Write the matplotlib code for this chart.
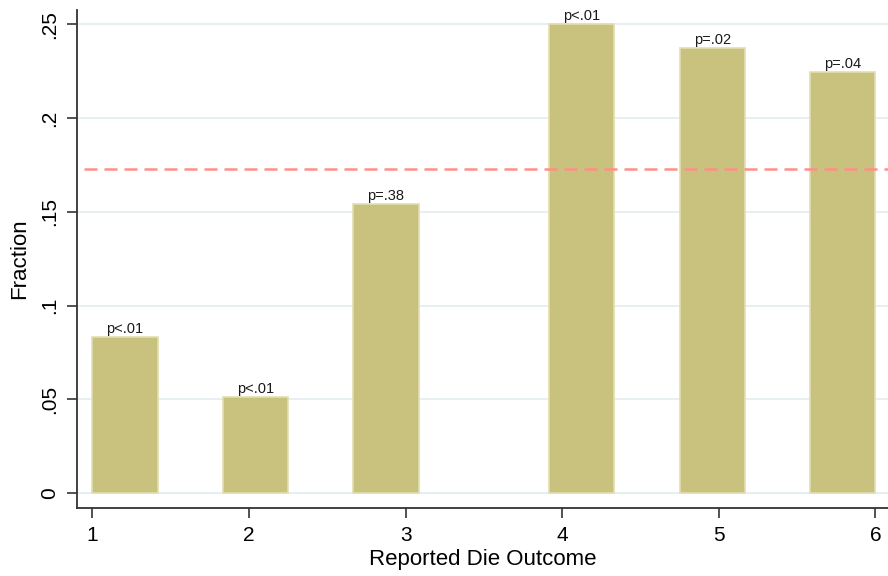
import numpy as np
import matplotlib.pyplot as plt

# reported die outcomes and fraction of reports
outcomes = [1, 2, 3, 4, 5, 6]
fractions = [0.0833, 0.0515, 0.154, 0.250, 0.2374, 0.2246]
p_labels = ['p<.01', 'p<.01', 'p=.38', 'p<.01', 'p=.02', 'p=.04']
ref_line = 0.173
y_ticks = [0, 0.05, 0.1, 0.15, 0.2, 0.25]
y_ticklabels = ['0', '.05', '.1', '.15', '.2', '.25']

plt.rcParams['font.family'] = ['Liberation Sans', 'DejaVu Sans']

# six bins over [1, 6]; each bar fills the half of its bin that holds the value
edges = np.linspace(min(outcomes), max(outcomes), len(outcomes) + 1)
binw = edges[1] - edges[0]
half = binw / 2
lefts = []
for i, v in enumerate(outcomes):
    side = 0 if v - edges[i] < half else 1
    lefts.append(edges[i] + side * half)

fig = plt.figure(figsize=(8.88, 5.76), dpi=100)
ax = fig.add_axes([0.0867, 0.1186, 0.9133, 0.864])

ax.bar(lefts, fractions, width=half, align='edge', color='#c9c27f',
       edgecolor='#e2deb0', linewidth=1.2, zorder=2)

for x, h, t in zip(lefts, fractions, p_labels):
    ax.text(x + half / 2, h + 0.0005, t, ha='center', va='bottom',
            fontsize=10.5, color='#1a1a1a', zorder=3)

ax.axhline(ref_line, color='#ff8f88', linewidth=1.8,
           linestyle=(5.2, (5.2, 2.8)), zorder=3)

ax.set_xlim(0.902, 6.08)
ax.set_ylim(-0.0077, 0.2575)
ax.set_xticks(outcomes)
ax.set_yticks(y_ticks)
ax.set_yticklabels(y_ticklabels, rotation=90, va='center')
ax.yaxis.grid(True, color='#e6eff2', linewidth=1.4, zorder=0)
ax.set_axisbelow(True)

for s in ['top', 'right']:
    ax.spines[s].set_visible(False)
for s in ['left', 'bottom']:
    ax.spines[s].set_linewidth(1.3)
    ax.spines[s].set_color('#333333')
ax.tick_params(axis='both', direction='out', length=7, width=1.2, color='#333333',
               labelsize=15, pad=6)

ax.set_xlabel('Reported Die Outcome', fontsize=16, labelpad=3)
ax.set_ylabel('Fraction', fontsize=16, labelpad=7)

fig.savefig('out.png', dpi=100)
